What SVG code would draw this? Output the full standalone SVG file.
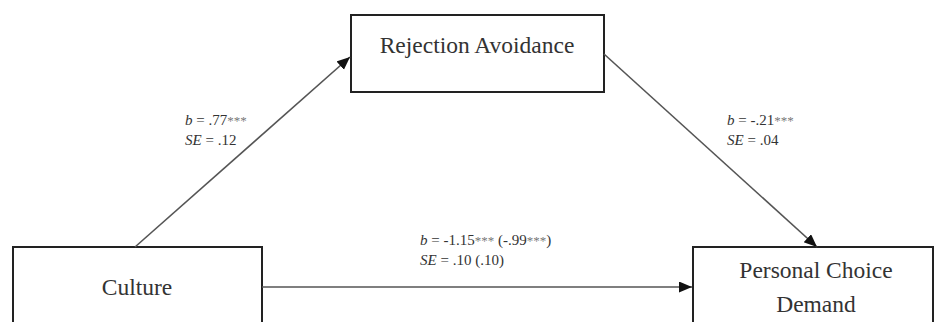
<svg xmlns="http://www.w3.org/2000/svg" width="937" height="322" viewBox="0 0 937 322">
<style>
.box{fill:#fff;stroke:#222;stroke-width:2}
.node{font-family:"Liberation Serif","Times New Roman",serif;font-size:23.5px;fill:#333;text-anchor:middle}
.lbl{font-family:"Liberation Serif","Times New Roman",serif;font-size:15px;fill:#333}
.edge{stroke:#555;stroke-width:1.6;fill:none}
.ast{fill:#777;font-size:13px}
</style>
<defs>
<marker id="arr" markerUnits="userSpaceOnUse" markerWidth="14" markerHeight="12" refX="13" refY="5.5" orient="auto">
<path d="M0,0 L13,5.5 L0,11 z" fill="#111"/>
</marker>
</defs>
<rect width="937" height="322" fill="#fff"/>
<g id="rejection-avoidance">
<rect class="box" x="351" y="15" width="253" height="77"/>
<text class="node" x="477" y="53">Rejection Avoidance</text>
</g>
<g id="culture">
<rect class="box" x="13" y="247" width="249" height="90"/>
<text class="node" x="137" y="295">Culture</text>
</g>
<g id="personal-choice-demand">
<rect class="box" x="693" y="247" width="240" height="90"/>
<text class="node" x="816" y="278">Personal Choice</text>
<text class="node" x="816" y="312">Demand</text>
</g>
<g id="connectors">
<line class="edge" x1="135" y1="247" x2="350" y2="57" marker-end="url(#arr)"/>
<line class="edge" x1="604" y1="54" x2="817" y2="247" marker-end="url(#arr)"/>
<line class="edge" x1="262" y1="287" x2="692" y2="287" marker-end="url(#arr)"/>
<text class="lbl" x="185" y="125"><tspan font-style="italic">b</tspan> = .77<tspan class="ast">***</tspan></text>
<text class="lbl" x="185" y="145"><tspan font-style="italic">SE</tspan> = .12</text>
<text class="lbl" x="727" y="125"><tspan font-style="italic">b</tspan> = -.21<tspan class="ast">***</tspan></text>
<text class="lbl" x="727" y="145"><tspan font-style="italic">SE</tspan> = .04</text>
<text class="lbl" x="420" y="245"><tspan font-style="italic">b</tspan> = -1.15<tspan class="ast">***</tspan> (-.99<tspan class="ast">***</tspan>)</text>
<text class="lbl" x="420" y="265"><tspan font-style="italic">SE</tspan> = .10 (.10)</text>
</g>
</svg>
